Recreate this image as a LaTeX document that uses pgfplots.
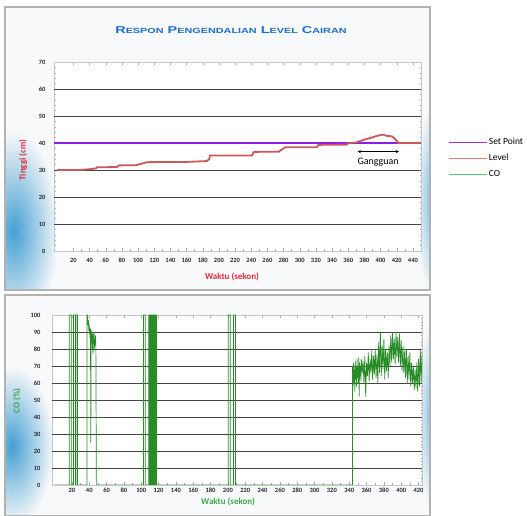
\documentclass[border=0pt]{standalone}
\usepackage{fontspec}
\setmainfont{Carlito}
\newfontfamily\titlefont{Liberation Sans}
\usepackage{graphicx}
\usepackage{pgfplots}
\pgfplotsset{compat=1.18}
\definecolor{setpt}{RGB}{140,30,235}
\definecolor{levelc}{RGB}{200,90,90}
\definecolor{coc}{RGB}{40,140,40}
\definecolor{lgset}{RGB}{150,50,240}
\definecolor{lglevel}{RGB}{225,120,120}
\definecolor{lgco}{RGB}{80,200,120}
\definecolor{labred}{RGB}{225,40,60}
\definecolor{labgreen}{RGB}{60,170,80}
\definecolor{tickc}{RGB}{40,40,50}
\definecolor{gridc}{RGB}{70,70,70}
\definecolor{titleblue}{RGB}{30,110,200}
\definecolor{blob}{RGB}{70,160,210}
\definecolor{panelbg}{RGB}{248,249,250}
\newcommand\smc[2]{{\fontsize{10}{10}\selectfont #1}{\fontsize{7.5}{7.5}\selectfont #2}}
\pgfplotsset{
  panelstyle/.style={
    scale only axis,
    tick align=inside, major tick length=3bp, minor tick length=1.5bp,
    tick style={gray!70, line width=0.4bp},
    axis line style={gray!45, line width=0.6bp},
    major grid style={gridc, line width=0.9bp},
    ticklabel style={font=\fontsize{6.5}{7}\selectfont\bfseries, text=tickc},
    /pgf/number format/assume math mode=true,
    axis background/.style={fill=white},
    label style={font=\fontsize{9}{10}\selectfont\bfseries},
  }
}
\begin{document}
\begin{tikzpicture}
\useasboundingbox (0,0) rectangle (527bp,516bp);
\fill[white] (0,0) rectangle (527bp,516bp);
% top panel background
\begin{scope}
\clip (5bp,226bp) rectangle (430bp,509bp);
\fill[panelbg] (5bp,226bp) rectangle (430bp,509bp);
\shade[inner color=blob, outer color=panelbg] (14bp,285bp) ellipse (45bp and 100bp);
\shade[inner color=blob!70, outer color=panelbg] (432bp,316bp) ellipse (16bp and 95bp);
\end{scope}
\draw[gray!60, line width=1.2bp] (5bp,226bp) rectangle (430bp,509bp);
% bottom panel background
\begin{scope}
\clip (5bp,0bp) rectangle (430bp,221bp);
\fill[panelbg] (5bp,0bp) rectangle (430bp,221bp);
\shade[inner color=blob, outer color=panelbg] (12bp,70bp) ellipse (42bp and 80bp);
\shade[inner color=blob!70, outer color=panelbg] (432bp,100bp) ellipse (14bp and 95bp);
\end{scope}
\draw[gray!60, line width=1.2bp] (5bp,0bp) rectangle (430bp,221bp);

\node[font=\titlefont\bfseries, text=titleblue] at (231bp,486bp)
  {\scalebox{1.45}[1]{\smc{R}{ESPON} \smc{P}{ENGENDALIAN} \smc{L}{EVEL} \smc{C}{AIRAN}}};

\begin{axis}[panelstyle,
  at={(54bp,265bp)}, anchor=south west, width=367bp, height=189bp,
  xmin=-4, xmax=450, ymin=0, ymax=70,
  xtick={20,40,...,440}, ytick={0,10,...,70},
  minor x tick num=1, minor y tick num=4,
  extra y ticks={10,20,...,60}, extra y tick labels={},
  extra y tick style={grid=major, major tick length=0pt},
  xticklabel style={yshift=-4bp},
  yticklabel style={xshift=-5bp},
  xlabel={Waktu (sekon)}, ylabel={Tinggi (cm)},
  label style={text=labred},
  xlabel style={at={(axis description cs:0.485,-0.1376)}, anchor=center},
  ylabel style={at={(axis description cs:-0.0845,0.481)}, anchor=center},
  legend style={at={(axis description cs:1.0736,0.6085)}, anchor=north west,
    draw=none, fill=none, inner sep=0pt, row sep=4bp,
    font=\fontsize{9.5}{10}\selectfont,
    nodes={inner sep=1.5bp, text height=7bp, text depth=2bp}},
  legend cell align=left,
  legend image code/.code={\draw[#1] (0bp,0bp) -- (38bp,0bp);},
]
\addplot[setpt, line width=1.5bp, forget plot] coordinates {(-4,40) (450,40)};
\addplot[levelc, line width=1.8bp, forget plot] coordinates {
(0,30)(28,30)(40,30.3)(48,30.6)(49,31)(74,31.1)(76,31.7)(98,31.8)(105,32.4)(111,32.9)
(160,33)(185,33.3)(188,34)(189,35.4)(241,35.4)(243,36.7)(274,36.8)(280,38)(282,38.4)
(321,38.4)(323,39.3)(358,39.4)(360,39.9)(370,40.2)(376,40.9)(383,41.5)(389,42)(395,42.6)
(403,43.1)(408,42.6)(414,42.5)(418,41.5)(422,40)(450,40)};
\draw[<->, >=stealth, line width=0.5bp] (axis cs:371.5,36.8) -- (axis cs:423,36.8);
\node[font=\fontsize{10}{11}\selectfont] at (axis cs:397,32.8) {Gangguan};
\addlegendimage{lgset, line width=1.2bp}
\addlegendentry{Set Point}
\addlegendimage{lglevel, line width=1.2bp}
\addlegendentry{Level}
\addlegendimage{lgco, line width=1.2bp}
\addlegendentry{CO}
\end{axis}

\begin{axis}[panelstyle,
  at={(52bp,31bp)}, anchor=south west, width=370bp, height=170bp,
  xmin=-3, xmax=424, ymin=0, ymax=100,
  xtick={20,40,...,420}, ytick={0,10,...,100},
  minor x tick num=1, minor y tick num=4,
  extra y ticks={10,20,...,90}, extra y tick labels={},
  extra y tick style={grid=major, major tick length=0pt},
  xticklabel style={yshift=0bp},
  yticklabel style={xshift=-8bp},
  xlabel={Waktu (sekon)}, ylabel={CO (\%)},
  label style={text=labgreen},
  xlabel style={at={(axis description cs:0.476,-0.098)}, anchor=center},
  ylabel style={at={(axis description cs:-0.0946,0.494)}, anchor=center},
]
\addplot[coc, line width=0.7bp] coordinates {
(0,0)(16.9,0)(16.9,100)(19.2,100)(19.2,0)
(21.9,0)(21.9,100)(24.2,100)(24.2,0)
(24.6,0)(24.6,100)(26.5,100)(26.5,0)
(37.5,0)(37.5,100)(38.2,99)(38.6,94)(39,97)(39.4,91)(39.8,95)(40.2,89)(40.6,93)(41,86)
(41.4,92)(41.8,25)(42.2,90)(42.6,84)(43,91)(43.4,80)(43.8,88)(44.2,77)(44.6,89)(45,83)
(45.4,90)(45.8,79)(46.2,86)(46.6,82)(47,88)(47.6,85)(48.2,0)
(102.7,0)(102.7,100)(104.6,100)(104.6,0)
(108.5,0)(108.5,100)(109,100)(109,0)(109.5,0)(109.5,100)(110,100)(110,0)
(110.5,0)(110.5,100)(111,100)(111,0)(111.5,0)(111.5,100)(112,100)(112,0)
(112.5,0)(112.5,100)(113,100)(113,0)(113.5,0)(113.5,100)(114,100)(114,0)
(114.5,0)(114.5,100)(115,100)(115,0)(115.5,0)(115.5,100)(116,100)(116,0)
(116.5,0)(116.5,100)(117,100)(117,0)(117.3,0)(117.3,100)(117.6,100)(117.6,0)
(200.5,0)(200.5,100)(202.7,100)(202.7,0)(206.5,0)(206.5,100)(208.8,100)(208.8,0)
(343.8,0)(343.8,70)
(344.5,58)(345,72)(345.5,60)(346,68)(346.5,55)(347,73)(347.5,62)(348,70)(348.5,58)(349,74)
(349.5,63)(350,69)(350.5,60)(351,75)(351.5,52)(352,72)(352.5,64)(353,70)(353.5,61)(354,74)
(355,66)(356,73)(357,60)(358,76)(359,52)(360,72)(361,64)(362,78)(363,61)(364,74)
(365,66)(366,79)(367,62)(368,76)(369,65)(370,80)(371,63)(372,77)(373,60)(374,84)
(375,66)(376,90)(377,64)(378,82)(379,68)(380,86)(381,62)(382,80)(383,67)(384,78)
(385,63)(386,82)(387,70)(388,88)(389,72)(390,90)(391,74)(392,86)(393,71)(394,90)
(395,75)(396,87)(397,72)(398,89)(399,70)(400,85)(401,67)(402,82)(403,66)(404,79)
(405,63)(406,80)(407,60)(408,76)(409,62)(410,78)(411,58)(412,72)(413,60)(414,70)
(415,56)(416,68)(417,57)(418,72)(419,55)(420,74)(421,58)(422,80)(423,60)(424,78)};
\end{axis}
\end{tikzpicture}
\end{document}
